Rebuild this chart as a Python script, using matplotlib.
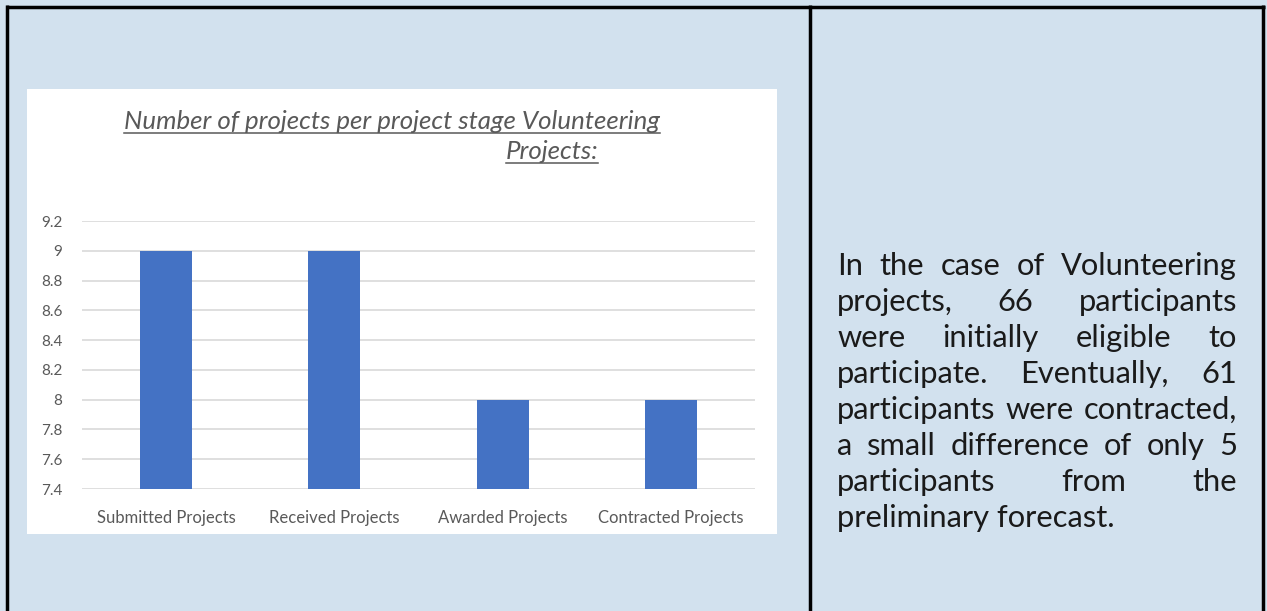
import matplotlib
matplotlib.use("Agg")
import matplotlib.pyplot as plt
from matplotlib.patches import Rectangle

stages = ["Submitted Projects", "Received Projects", "Awarded Projects", "Contracted Projects"]
counts = [9, 9, 8, 8]
y_ticks = [7.4, 7.6, 7.8, 8.0, 8.2, 8.4, 8.6, 8.8, 9.0, 9.2]
y_tick_labels = ["7.4", "7.6", "7.8", "8", "8.2", "8.4", "8.6", "8.8", "9", "9.2"]
title_lines = ["Number of projects per project stage Volunteering", "Projects:"]
note_lines = [
    "In the case of Volunteering",
    "projects, 66 participants",
    "were initially eligible to",
    "participate. Eventually, 61",
    "participants were contracted,",
    "a small difference of only 5",
    "participants from the",
    "preliminary forecast.",
]

W, H = 1267, 611
bg = "#D2E1EE"
grey = "#595959"
chart_font = "Lato"
note_font = "Lato"

fig = plt.figure(figsize=(W / 100, H / 100), dpi=100, facecolor=bg)

# overlay axes in pixel coordinates (y down) for boxes and free text
ov = fig.add_axes([0, 0, 1, 1])
ov.set_xlim(0, W)
ov.set_ylim(H, 0)
ov.axis("off")

ov.add_patch(Rectangle((27, 89), 750, 445, fc="white", ec="none"))
for xs, ys in [([7, 7], [5, H]), ([810, 810], [5, H]), ([1263, 1263], [5, H]), ([5.5, 1264.5], [6.5, 6.5])]:
    ov.plot(xs, ys, color="black", lw=2.5, solid_capstyle="butt")

# bar chart
ax = fig.add_axes([82 / W, (H - 489) / H, (755 - 82) / W, (489 - 221) / H])
ax.patch.set_alpha(0)
ax.bar(range(len(stages)), counts, width=0.31, color="#4472C4", zorder=3)
ax.set_xlim(-0.5, len(stages) - 0.5)
ax.set_ylim(7.4, 9.2)
ax.set_yticks(y_ticks, y_tick_labels)
ax.set_xticks(range(len(stages)), stages)
ax.yaxis.grid(True, color="#D9D9D9", lw=1.2)
ax.set_axisbelow(True)
for s in ax.spines.values():
    s.set_visible(False)
ax.tick_params(axis="y", length=0, pad=14, colors=grey, labelsize=11)
ax.tick_params(axis="x", length=0, pad=15, colors=grey, labelsize=12)
for lab in ax.get_xticklabels() + ax.get_yticklabels():
    lab.set_family(chart_font)

fig.canvas.draw()
r = fig.canvas.get_renderer()

# title with underline
title_y = [129, 159]
title_x = [392, 552]
for line, ty, tx in zip(title_lines, title_y, title_x):
    t = ov.text(tx, ty, line, fontsize=18.6, family=chart_font, style="italic",
                color=grey, ha="center", va="baseline")
    bb = t.get_window_extent(r)
    ov.plot([bb.x0, bb.x1], [ty + 3.5, ty + 3.5], color=grey, lw=1.1)


def text_w(s, size):
    t = ov.text(0, 0, s, fontsize=size, family=note_font)
    w = t.get_window_extent(r).width
    t.remove()
    return w


x0, x1 = 837, 1237
note_size = 20 * 398 / text_w("participants were contracted,", 20)
base = 275
step = 36
for i, line in enumerate(note_lines):
    y = base + i * step
    words = line.split()
    if i == len(note_lines) - 1:
        ov.text(x0, y, line, fontsize=note_size, family=note_font, color="#1a1a1a", va="baseline")
        continue
    ws = [text_w(w, note_size) for w in words]
    gap = (x1 - x0 - sum(ws)) / (len(words) - 1)
    x = x0
    for w, wd in zip(words, ws):
        ov.text(x, y, w, fontsize=note_size, family=note_font, color="#1a1a1a", va="baseline")
        x += wd + gap

fig.savefig("out.png", dpi=100, facecolor=bg)
